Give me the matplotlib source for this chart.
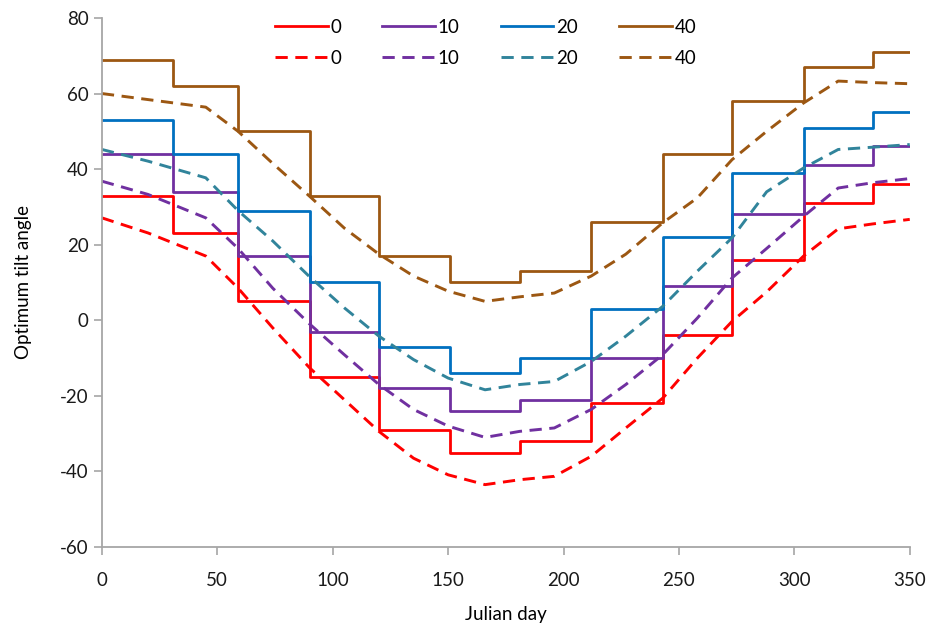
import matplotlib
matplotlib.use("Agg")
import matplotlib.pyplot as plt
import numpy as np

plt.rcParams['font.family'] = ['Lato', 'DejaVu Sans']
plt.rcParams['axes.unicode_minus'] = False

# monthly steps (solid lines), month edges in Julian days
month_edges = [0, 31, 59, 90, 120, 151, 181, 212, 243, 273, 304, 334, 365]
step_0 = [33, 23, 5, -15, -29, -35, -32, -22, -4, 16, 31, 36]
step_10 = [44, 34, 17, -3, -18, -24, -21, -10, 9, 28, 41, 46]
step_20 = [53, 44, 29, 10, -7, -14, -10, 3, 22, 39, 51, 55]
step_40 = [69, 62, 50, 33, 17, 10, 13, 26, 44, 58, 67, 71]

# daily optimum (dashed lines)
days = [0, 20, 45, 59, 74, 90, 105, 120, 135, 150, 166, 181, 196, 212, 227,
        243, 258, 273, 288, 304, 319, 334, 350]
opt_0 = [27.1, 23.1, 17, 8.5, -2, -12.6, -21, -29.4, -36.5, -40.9, -43.5, -42.2,
         -41.3, -36, -28.5, -20.6, -10, -0.3, 7.5, 17, 24.2, 25.5, 26.7]
opt_10 = [36.8, 33.3, 27.1, 19, 8.5, -1, -9.1, -17, -23.6, -28, -31, -29.4,
          -28.5, -23.6, -17, -9.1, 0.6, 11.2, 19, 27.5, 35, 36.4, 37.5]
opt_20 = [45.2, 42.1, 37.7, 29, 21, 11.5, 3.3, -4.2, -10.4, -15.3, -18.4, -17,
          -16.2, -10.9, -4.2, 3.7, 13, 21.8, 34, 40.3, 45.2, 45.8, 46.5]
opt_40 = [60, 58.4, 56.4, 50, 41.5, 32.8, 24.4, 17.5, 11.7, 7.7, 5.0, 6.2,
          7.2, 11.7, 17.5, 25.8, 32.4, 42.5, 50, 57.5, 63.3, 62.9, 62.6]

labels = ['0', '10', '20', '40']
solid_colors = ['#FF0000', '#7030A0', '#0070C0', '#9C5712']
dash_colors = ['#FF0000', '#7030A0', '#31849B', '#9C5712']

fig = plt.figure(figsize=(9.35, 6.35), dpi=100)
ax = fig.add_axes([0.109, 0.1386, 0.864, 0.8331])

steps = [step_0, step_10, step_20, step_40]
opts = [opt_0, opt_10, opt_20, opt_40]
for lab, st, op, sc, dc in zip(labels, steps, opts, solid_colors, dash_colors):
    ax.step(month_edges, st + [st[-1]], where='post', color=sc, lw=2.0, label=lab)
    ax.plot(days, op, color=dc, lw=2.1, ls=(0, (4.2, 2.6)), label=lab)

ax.set_xlim(0, 350)
ax.set_ylim(-60, 80)
ax.set_xticks(np.arange(0, 351, 50))
ax.set_yticks(np.arange(-60, 81, 20))
for s in ['top', 'right']:
    ax.spines[s].set_visible(False)
for s in ['left', 'bottom']:
    ax.spines[s].set_color('#A6A6A6')
    ax.spines[s].set_linewidth(1.3)
ax.tick_params(axis='both', colors='#A6A6A6', length=6, width=1.2,
               labelsize=13.5, labelcolor='#1a1a1a')
ax.tick_params(axis='x', pad=12)
ax.set_xlabel('Julian day', fontsize=13.5, labelpad=12)
ax.set_ylabel('Optimum tilt angle', fontsize=13.5, labelpad=20)

ax.legend(ncol=4, loc='upper center', bbox_to_anchor=(0.475, 1.03), frameon=False,
          fontsize=13.5, handlelength=2.8, handletextpad=0.15, columnspacing=2.2,
          labelspacing=0.75)

fig.savefig('out.png', dpi=100)
